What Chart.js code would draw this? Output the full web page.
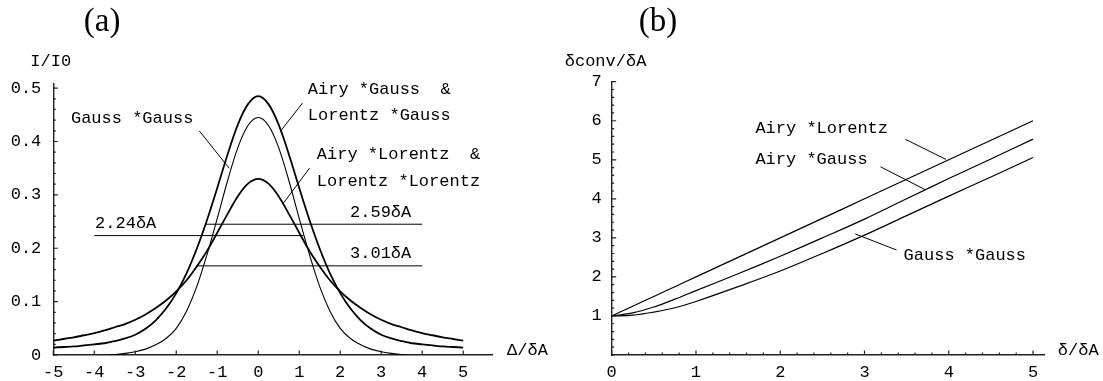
<!DOCTYPE html>
<html>
<head>
<meta charset="utf-8">
<script src="https://cdn.jsdelivr.net/npm/chart.js@4.4.1/dist/chart.umd.min.js"></script>
<style>
html, body { margin: 0; padding: 0; background: #fff; }
#wrap { position: relative; width: 1103px; height: 381px; overflow: hidden; }
canvas { position: absolute; top: 0; }
</style>
</head>
<body>
<div id="wrap">
  <canvas id="chartA" width="560" height="381" style="left:0px"></canvas>
  <canvas id="chartB" width="543" height="381" style="left:560px"></canvas>
</div>
<script>
// ---- panel (a): line profiles, I/I0 against Δ/δA
const profileX = [-5, -4.75, -4.5, -4.25, -4, -3.75, -3.5, -3.25, -3, -2.75, -2.5, -2.25, -2, -1.75, -1.5, -1.25, -1, -0.75, -0.5, -0.25,
  0, 0.25, 0.5, 0.75, 1, 1.25, 1.5, 1.75, 2, 2.25, 2.5, 2.75, 3, 3.25, 3.5, 3.75, 4, 4.25, 4.5, 4.75, 5];
const airyGaussProfile = [0.014, 0.015, 0.016, 0.018, 0.020, 0.022, 0.026, 0.031, 0.038, 0.049, 0.065, 0.087, 0.116, 0.153, 0.199, 0.253, 0.313, 0.375, 0.431, 0.470,
  0.485, 0.470, 0.431, 0.375, 0.313, 0.253, 0.199, 0.153, 0.116, 0.087, 0.065, 0.049, 0.038, 0.031, 0.026, 0.022, 0.020, 0.018, 0.016, 0.015, 0.014];
const airyLorentzProfile = [0.027, 0.030, 0.033, 0.037, 0.041, 0.046, 0.052, 0.058, 0.066, 0.076, 0.088, 0.102, 0.119, 0.140, 0.166, 0.195, 0.229, 0.264, 0.297, 0.321,
  0.330, 0.321, 0.297, 0.264, 0.229, 0.195, 0.166, 0.140, 0.119, 0.102, 0.088, 0.076, 0.066, 0.058, 0.052, 0.046, 0.041, 0.037, 0.033, 0.030, 0.027];
const gaussX = [-3.65, -3.5, -3.25, -3, -2.75, -2.5, -2.25, -2, -1.75, -1.5, -1.25, -1, -0.75, -0.5, -0.25,
  0, 0.25, 0.5, 0.75, 1, 1.25, 1.5, 1.75, 2, 2.25, 2.5, 2.75, 3, 3.25, 3.5, 3.65];
const gaussGaussProfile = [0, 0.001, 0.003, 0.006, 0.011, 0.019, 0.031, 0.050, 0.082, 0.128, 0.188, 0.256, 0.326, 0.388, 0.430,
  0.445, 0.430, 0.388, 0.326, 0.256, 0.188, 0.128, 0.082, 0.050, 0.031, 0.019, 0.011, 0.006, 0.003, 0.001, 0];

// FWHM markers: level, start, end
const fwhmLabels = ['2.24δA', '2.59δA', '3.01δA'];
const fwhmLevel = [0.2237, 0.245, 0.167];
const fwhmFrom = [-4, -1.3, -1.5];
const fwhmTo = [1.1, 4, 4];

const ticksA_x = [-5, -4, -3, -2, -1, 0, 1, 2, 3, 4, 5];
const ticksA_y = [0, 0.1, 0.2, 0.3, 0.4, 0.5];

// ---- panel (b): convolved width δconv/δA against δ/δA
const widthX = [0, 0.25, 0.5, 0.75, 1, 1.5, 2, 2.5, 3, 3.5, 4, 4.5, 5];
const airyLorentzWidth = [1, 1.25, 1.5, 1.75, 2, 2.5, 3, 3.5, 4, 4.5, 5, 5.5, 6];
const airyGaussWidth = [1, 1.08, 1.23, 1.43, 1.65, 2.08, 2.53, 3.0, 3.48, 4.0, 4.52, 5.02, 5.53];
const gaussGaussWidth = [1, 1.02, 1.1, 1.21, 1.37, 1.75, 2.15, 2.6, 3.07, 3.57, 4.07, 4.56, 5.06];

const ticksB_x = [0, 1, 2, 3, 4, 5];
const ticksB_y = [1, 2, 3, 4, 5, 6, 7];

const MONO = "'Liberation Mono', 'DejaVu Sans Mono', monospace";
const INK = '#000';

function pts(xs, ys) {
  return xs.map((x, i) => ({ x: x, y: ys[i] }));
}

function curve(xs, ys, w) {
  return { data: pts(xs, ys), showLine: true, borderColor: INK, borderWidth: w,
           pointRadius: 0, tension: 0.35, fill: false };
}

function segment(a, b) {
  return { data: [{ x: a[0], y: a[1] }, { x: b[0], y: b[1] }], showLine: true,
           borderColor: INK, borderWidth: 1, pointRadius: 0, tension: 0 };
}

function range(from, to, step) {
  const out = [];
  for (let v = from; v <= to + 1e-9; v += step) out.push(+v.toFixed(4));
  return out;
}

// inward ticks + text labels placed through the chart's own scales
function decor(cfg) {
  return {
    id: 'decor',
    afterDraw(chart) {
      const c = chart.ctx, xs = chart.scales.x, ys = chart.scales.y;
      const area = chart.chartArea;
      c.save();
      c.strokeStyle = '#222';
      c.lineWidth = 1.2;
      c.beginPath();
      cfg.minorX.forEach(v => { const p = xs.getPixelForValue(v); c.moveTo(p, area.bottom); c.lineTo(p, area.bottom - 2.5); });
      cfg.majorX.forEach(v => { const p = xs.getPixelForValue(v); c.moveTo(p, area.bottom); c.lineTo(p, area.bottom - 4.5); });
      cfg.minorY.forEach(v => { const p = ys.getPixelForValue(v); c.moveTo(area.left, p); c.lineTo(area.left + 2.5, p); });
      cfg.majorY.forEach(v => { const p = ys.getPixelForValue(v); c.moveTo(area.left, p); c.lineTo(area.left + 4.5, p); });
      c.stroke();
      c.fillStyle = INK;
      c.textBaseline = 'middle';
      cfg.texts.forEach(t => {
        c.font = t.font || ('17px ' + MONO);
        c.textAlign = t.align || 'left';
        c.fillText(t.s, xs.getPixelForValue(t.x), ys.getPixelForValue(t.y));
      });
      c.restore();
    }
  };
}

function axisOptions(min, max, ticks, side, size, pad) {
  return {
    type: 'linear', min: min, max: max,
    afterBuildTicks: s => { s.ticks = ticks.map(v => ({ value: v })); },
    afterFit: s => { if (side === 'x') s.height = size; else s.width = size; },
    grid: { display: true, drawOnChartArea: false, drawTicks: false },
    border: { display: true, color: '#222', width: 1.4 },
    ticks: { color: INK, padding: pad, font: { family: MONO, size: 17 }, callback: v => String(v) }
  };
}

Chart.defaults.font.family = MONO;

const fwhmSets = fwhmLevel.map((lv, i) => segment([fwhmFrom[i], lv], [fwhmTo[i], lv]));

new Chart(document.getElementById('chartA'), {
  type: 'scatter',
  data: {
    datasets: [
      curve(profileX, airyGaussProfile, 1.8),
      curve(gaussX, gaussGaussProfile, 1.1),
      curve(profileX, airyLorentzProfile, 1.8),
      ...fwhmSets,
      segment([-1.44, 0.42], [-0.71, 0.35]),
      segment([1.08, 0.472], [0.57, 0.422]),
      segment([1.25, 0.35], [0.61, 0.284])
    ]
  },
  options: {
    responsive: false, animation: false, events: [],
    layout: { padding: { left: 0, right: 67.3, top: 83.3, bottom: 0 } },
    plugins: { legend: { display: false }, tooltip: { enabled: false } },
    scales: {
      x: axisOptions(-5, 5.72, ticksA_x, 'x', 26, 7),
      y: axisOptions(0, 0.509, ticksA_y, 'y', 53.3, 12)
    }
  },
  plugins: [decor({
    majorX: ticksA_x, minorX: [],
    majorY: ticksA_y, minorY: range(0, 0.5, 0.02),
    texts: [
      { s: '(a)', x: -3.81, y: 0.624, align: 'center', font: "33px 'Liberation Serif', serif" },
      { s: 'I/I0', x: -5.56, y: 0.55 },
      { s: 'Gauss *Gauss', x: -4.57, y: 0.4437 },
      { s: 'Airy *Gauss  &', x: 1.21, y: 0.4968 },
      { s: 'Lorentz *Gauss', x: 1.21, y: 0.448 },
      { s: 'Airy *Lorentz  &', x: 1.43, y: 0.375 },
      { s: 'Lorentz *Lorentz', x: 1.43, y: 0.3243 },
      { s: fwhmLabels[0], x: -3.98, y: 0.247 },
      { s: fwhmLabels[1], x: 2.24, y: 0.2668 },
      { s: fwhmLabels[2], x: 2.24, y: 0.1907 },
      { s: 'Δ/δA', x: 6.07, y: 0.009 }
    ]
  })]
});

new Chart(document.getElementById('chartB'), {
  type: 'scatter',
  data: {
    datasets: [
      curve(widthX, airyLorentzWidth, 1.2),
      curve(widthX, airyGaussWidth, 1.2),
      curve(widthX, gaussGaussWidth, 1.2),
      segment([3.485, 5.525], [3.966, 5.01]),
      segment([3.19, 4.82], [3.715, 4.24]),
      segment([3.38, 2.69], [2.89, 3.10])
    ]
  },
  options: {
    responsive: false, animation: false, events: [],
    layout: { padding: { left: 0, right: 59, top: 81.7, bottom: 0 } },
    plugins: { legend: { display: false }, tooltip: { enabled: false } },
    scales: {
      x: axisOptions(0, 5.13, ticksB_x, 'x', 26, 7),
      y: axisOptions(0, 7, ticksB_y, 'y', 51.7, 10)
    }
  },
  plugins: [decor({
    majorX: ticksB_x, minorX: range(0, 5, 0.2),
    majorY: ticksB_y, minorY: range(0, 7, 0.2),
    texts: [
      { s: '(b)', x: 0.55, y: 8.53, align: 'center', font: "33px 'Liberation Serif', serif" },
      { s: 'δconv/δA', x: -0.557, y: 7.51 },
      { s: 'Airy *Lorentz', x: 1.705, y: 5.807 },
      { s: 'Airy *Gauss', x: 1.705, y: 4.995 },
      { s: 'Gauss *Gauss', x: 3.464, y: 2.561 },
      { s: 'δ/δA', x: 5.294, y: 0.128 }
    ]
  })]
});
</script>
</body>
</html>
